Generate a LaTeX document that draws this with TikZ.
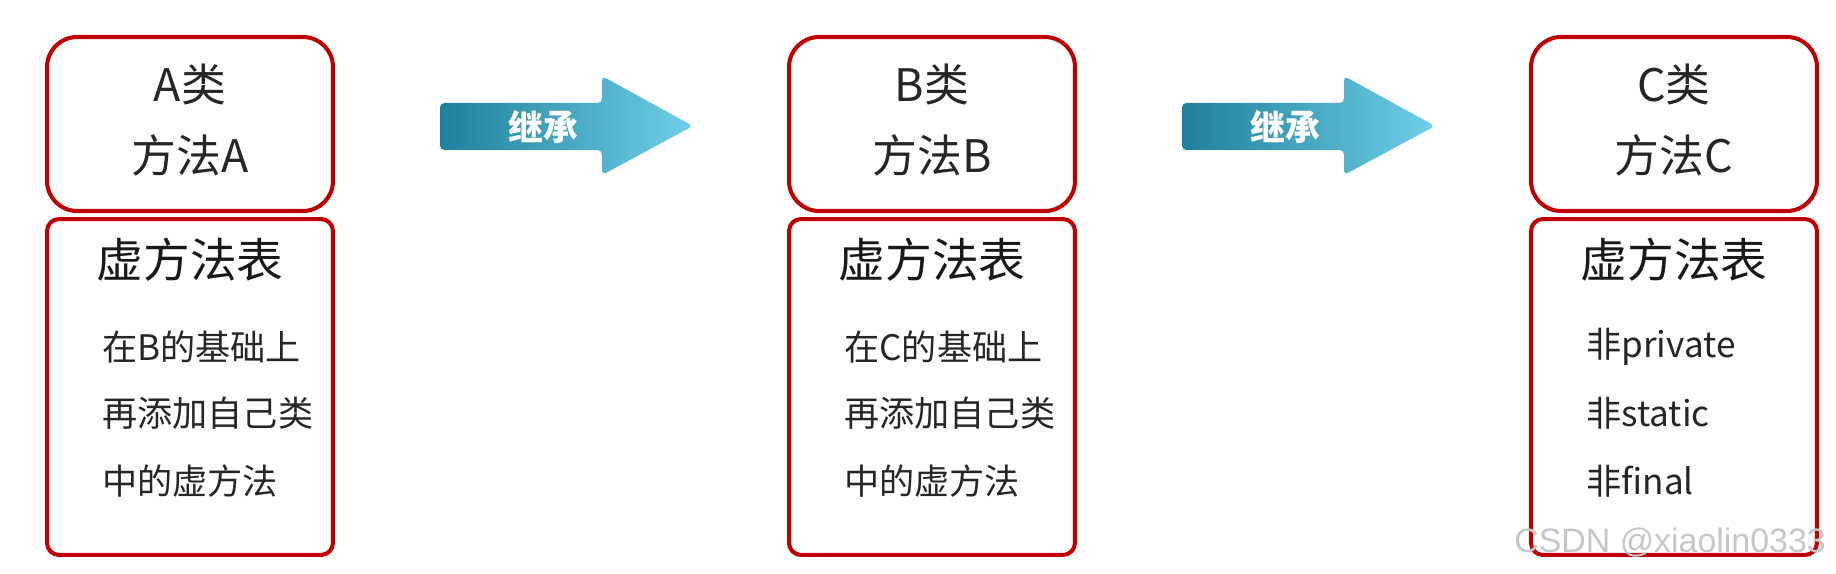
\documentclass[tikz,border=0pt]{standalone}
\usepackage{fontspec}
\setmainfont{Noto Sans CJK SC}
\newfontfamily\wmfont{Liberation Sans}
\usetikzlibrary{positioning}
\definecolor{boxred}{RGB}{192,0,0}
\definecolor{tealdark}{RGB}{30,128,155}
\definecolor{tealmid}{RGB}{75,182,212}
\definecolor{teallight}{RGB}{112,207,232}
\tikzset{
  classbox/.style={draw=boxred, line width=2.3pt, rounded corners=0.6cm, minimum width=5.72cm, minimum height=3.48cm},
  tablebox/.style={draw=boxred, line width=2.3pt, rounded corners=0.24cm, minimum width=5.72cm, minimum height=6.72cm},
  classtitle/.style={font=\fontsize{25.5}{30}\selectfont, text=black!85, inner sep=0},
  tabletitle/.style={font=\fontsize{26.6}{30}\selectfont, text=black!90, inner sep=0},
  methodline/.style={font=\fontsize{20}{24}\selectfont, text=black!85, anchor=west, inner sep=0},
  inherit/.style={left color=tealdark, middle color=tealmid, right color=teallight, rounded corners=2.5pt},
  inhtext/.style={font=\fontsize{19.8}{24}\selectfont\bfseries, text=white, inner sep=0}
}
\begin{document}
\begin{tikzpicture}[x=0.02cm, y=-0.02cm]
\useasboundingbox (0,0) rectangle (1836,574);
\node[classbox] (clsA) at (190,124) {};
\node[tablebox] (tabA) at (190,387) {};
\node[classtitle] (nameA) at (190,85) {A类};
\node[classtitle] (methA) at (190,155) {方法A};
\node[tabletitle] (vtA) at (190,260) {虚方法表};
\node[methodline] (lineA1) at (102,347) {在B的基础上};
\node[methodline] (lineA2) at (102,413) {再添加自己类};
\node[methodline] (lineA3) at (102,481) {中的虚方法};
\shade[inherit] (440,103) -- (602,103) -- (602,76) -- (693,126) -- (602,175) -- (602,150) -- (440,150) -- cycle;
\node[inhtext] (inhAB) at (543,127) {继承};
\node[classbox] (clsB) at (932,124) {};
\node[tablebox] (tabB) at (932,387) {};
\node[classtitle] (nameB) at (932,85) {B类};
\node[classtitle] (methB) at (932,155) {方法B};
\node[tabletitle] (vtB) at (932,260) {虚方法表};
\node[methodline] (lineB1) at (844,347) {在C的基础上};
\node[methodline] (lineB2) at (844,413) {再添加自己类};
\node[methodline] (lineB3) at (844,481) {中的虚方法};
\shade[inherit] (1182,103) -- (1344,103) -- (1344,76) -- (1435,126) -- (1344,175) -- (1344,150) -- (1182,150) -- cycle;
\node[inhtext] (inhBC) at (1285,127) {继承};
\node[classbox] (clsC) at (1674,124) {};
\node[tablebox] (tabC) at (1674,387) {};
\node[classtitle] (nameC) at (1674,85) {C类};
\node[classtitle] (methC) at (1674,155) {方法C};
\node[tabletitle] (vtC) at (1674,260) {虚方法表};
\node[methodline] (lineC1) at (1586,347) {非private};
\node[methodline] (lineC2) at (1586,413) {非static};
\node[methodline] (lineC3) at (1586,481) {非final};
\node[anchor=base west, inner sep=0, text=gray!45, font=\wmfont\fontsize{19.3}{22}\selectfont] (wm) at (1514,552) {CSDN @xiaolin0333};
\end{tikzpicture}
\end{document}
